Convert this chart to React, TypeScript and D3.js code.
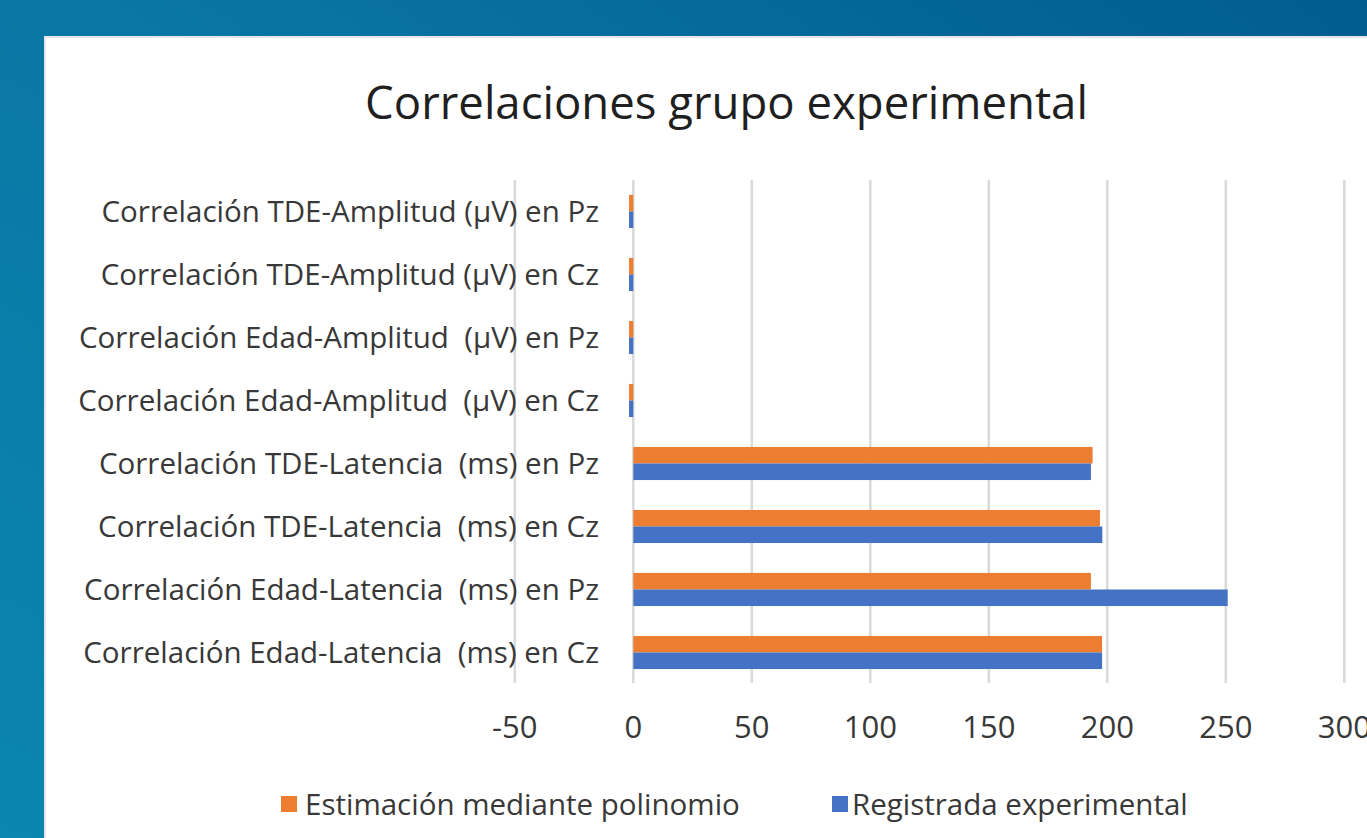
import React from "react";
import * as d3 from "d3";

// categories listed top to bottom, as they appear in the chart
const categories = [
  "Correlación TDE-Amplitud (µV) en Pz",
  "Correlación TDE-Amplitud (µV) en Cz",
  "Correlación Edad-Amplitud  (µV) en Pz",
  "Correlación Edad-Amplitud  (µV) en Cz",
  "Correlación TDE-Latencia  (ms) en Pz",
  "Correlación TDE-Latencia  (ms) en Cz",
  "Correlación Edad-Latencia  (ms) en Pz",
  "Correlación Edad-Latencia  (ms) en Cz",
];

const estimacion = [-1.8, -1.8, -1.8, -1.8, 193.8, 196.9, 193.1, 197.8];
const registrada = [-1.8, -1.8, -1.8, -1.8, 193.1, 197.9, 250.8, 197.8];

const seriesNames = ["Estimación mediante polinomio", "Registrada experimental"];
const seriesColors = ["#ED7D31", "#4472C4"];

const xTicks = [-50, 0, 50, 100, 150, 200, 250, 300];

const W = 1367;
const H = 838;
const FONT = "'Open Sans', sans-serif";

export default function App() {
  const x = d3.scaleLinear().domain([-50, 300]).range([514.8, 1344.3]);
  const y = d3
    .scaleBand<string>()
    .domain(categories)
    .range([180, 684])
    .paddingInner(0.475)
    .paddingOuter(0.2375);
  const sub = d3
    .scaleBand<number>()
    .domain([0, 1])
    .range([0, y.bandwidth()]);

  const values = [estimacion, registrada];

  const legendItems = [
    { x: 281, textX: 305 },
    { x: 832, textX: 852 },
  ];

  return (
    <div style={{ position: "absolute", left: 0, top: 0 }}>
      <svg width={W} height={H} style={{ display: "block" }}>
        <defs>
          <linearGradient id="bg" x1="0" y1="1" x2="1" y2="0">
            <stop offset="0%" stopColor="#0a86b0" />
            <stop offset="55%" stopColor="#0a76a4" />
            <stop offset="100%" stopColor="#005c8f" />
          </linearGradient>
        </defs>
        <rect x={0} y={0} width={W} height={H} fill="url(#bg)" />
        <rect x={44} y={36} width={W} height={H} fill="#e6e6e6" />
        <rect x={46} y={38} width={W} height={H} fill="#ffffff" />

        <text
          x={726.5}
          y={119}
          textAnchor="middle"
          fontFamily={FONT}
          fontSize={45.5}
          fill="#1f1f1f"
        >
          Correlaciones grupo experimental
        </text>

        {/* gridlines */}
        {xTicks.map((t) => (
          <line
            key={"g" + t}
            x1={x(t)}
            x2={x(t)}
            y1={180}
            y2={683}
            stroke="#d9d9d9"
            strokeWidth={2.5}
          />
        ))}

        {/* bars */}
        {categories.map((c, i) => (
          <g key={c} transform={`translate(0,${y(c)})`}>
            {values.map((vals, s) => {
              const v = vals[i];
              return (
                <rect
                  key={s}
                  x={Math.min(x(0), x(v))}
                  y={sub(s)}
                  width={Math.abs(x(v) - x(0))}
                  height={sub.bandwidth()}
                  fill={seriesColors[s]}
                />
              );
            })}
          </g>
        ))}

        {/* category labels */}
        {categories.map((c) => (
          <text
            key={"l" + c}
            x={599}
            y={(y(c) as number) + y.bandwidth() / 2}
            dy="0.36em"
            textAnchor="end"
            fontFamily={FONT}
            fontSize={29.5}
            fill="#383838"
            style={{ whiteSpace: "pre" }}
          >
            {c}
          </text>
        ))}

        {/* x tick labels */}
        {xTicks.map((t) => (
          <text
            key={"t" + t}
            x={x(t)}
            y={738}
            textAnchor="middle"
            fontFamily={FONT}
            fontSize={31}
            fill="#383838"
          >
            {t}
          </text>
        ))}

        {/* legend */}
        {seriesNames.map((name, s) => (
          <g key={name}>
            <rect
              x={legendItems[s].x}
              y={796}
              width={16}
              height={16}
              fill={seriesColors[s]}
            />
            <text
              x={legendItems[s].textX}
              y={804}
              dy="0.36em"
              fontFamily={FONT}
              fontSize={29.5}
              fill="#383838"
            >
              {name}
            </text>
          </g>
        ))}
      </svg>
    </div>
  );
}
